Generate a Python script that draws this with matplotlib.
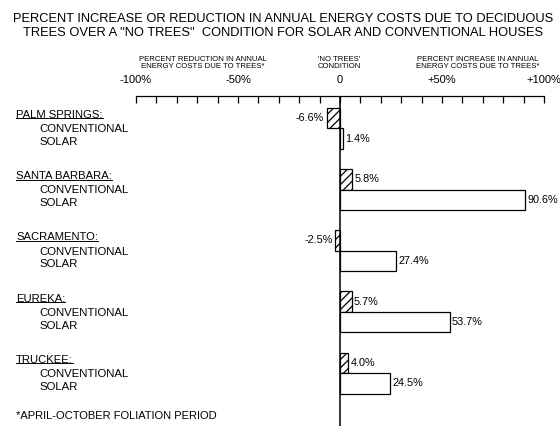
import matplotlib
matplotlib.use('Agg')
import matplotlib.pyplot as plt
import matplotlib.transforms as mtransforms
from matplotlib.lines import Line2D

plt.rcParams['font.family'] = ['Liberation Sans', 'DejaVu Sans']
plt.rcParams['hatch.linewidth'] = 0.9

cities = ['PALM SPRINGS:', 'SANTA BARBARA:', 'SACRAMENTO:', 'EUREKA:', 'TRUCKEE:']
conventional = [-6.6, 5.8, -2.5, 5.7, 4.0]
solar = [1.4, 90.6, 27.4, 53.7, 24.5]
tick_vals = [-100, -50, 0, 50, 100]
tick_labels = ['-100%', '-50%', '0', '+50%', '+100%']

fig = plt.figure(figsize=(5.6, 4.26), dpi=100)
ax = fig.add_axes([136 / 560, 0.0, 408 / 560, 330 / 426])

bh = 0.335
ypos = list(range(len(cities)))
ax.barh(ypos, conventional, height=bh, color='white', edgecolor='black',
        hatch='////', linewidth=0.9)
ax.barh([y + bh for y in ypos], solar, height=bh, color='white',
        edgecolor='black', linewidth=0.9)

for y, v in zip(ypos, conventional):
    if v < 0:
        ax.text(v - 1.2, y, '%.1f%%' % v, ha='right', va='center', fontsize=7.8)
    else:
        ax.text(v + 1.2, y, '%.1f%%' % v, ha='left', va='center', fontsize=7.8)
for y, v in zip(ypos, solar):
    ax.text(v + 1.2, y + bh, '%.1f%%' % v, ha='left', va='center', fontsize=7.8)

ax.axvline(0, color='black', linewidth=1.1)
ax.set_xlim(-100, 100)
ax.set_ylim(5.03, -0.36)
ax.set_yticks([])
for s in ['left', 'right', 'bottom']:
    ax.spines[s].set_visible(False)
ax.spines['top'].set_linewidth(0.9)
ax.xaxis.tick_top()
ax.set_xticks(tick_vals)
ax.set_xticklabels(tick_labels, fontsize=8)
ax.set_xticks(range(-90, 100, 10), minor=True)
ax.tick_params(axis='x', which='both', direction='in', length=5, width=0.9, pad=3)
ax.tick_params(axis='x', which='major', pad=8)

# headers above the scale
for xc, txt in [(203, 'PERCENT REDUCTION IN ANNUAL\nENERGY COSTS DUE TO TREES*'),
                (339, "'NO TREES'\nCONDITION"),
                (478, 'PERCENT INCREASE IN ANNUAL\nENERGY COSTS DUE TO TREES*')]:
    fig.text(xc / 560, 1 - 63 / 426, txt, ha='center', va='center',
             fontsize=5.6, linespacing=1.0)

# title
fig.text(0.505, 1 - 19 / 426, 'PERCENT INCREASE OR REDUCTION IN ANNUAL ENERGY COSTS DUE TO DECIDUOUS',
         ha='center', va='center', fontsize=9.3)
fig.text(0.505, 1 - 33 / 426, 'TREES OVER A "NO TREES"  CONDITION FOR SOLAR AND CONVENTIONAL HOUSES',
         ha='center', va='center', fontsize=9.3)

# left labels
trans = mtransforms.blended_transform_factory(fig.transFigure, ax.transData)
city_texts = []
for y, c in zip(ypos, cities):
    t = ax.text(16 / 560, y - 0.05, c, transform=trans, ha='left', va='center', fontsize=8.1)
    city_texts.append(t)
    ax.text(39 / 560, y + 0.18, 'CONVENTIONAL', transform=trans, ha='left', va='center', fontsize=8.2)
    ax.text(39 / 560, y + 0.39, 'SOLAR', transform=trans, ha='left', va='center', fontsize=8.2)

fig.text(16 / 560, 1 - 416 / 426, '*APRIL-OCTOBER FOLIATION PERIOD', ha='left', va='center', fontsize=8.0)

# underline city names
fig.canvas.draw()
renderer = fig.canvas.get_renderer()
for t in city_texts:
    bb = t.get_window_extent(renderer).transformed(fig.transFigure.inverted())
    fig.add_artist(Line2D([bb.x0, bb.x1], [bb.y0 + 0.004, bb.y0 + 0.004],
                          transform=fig.transFigure, color='black', linewidth=0.7))

fig.savefig('out.png', dpi=100)
